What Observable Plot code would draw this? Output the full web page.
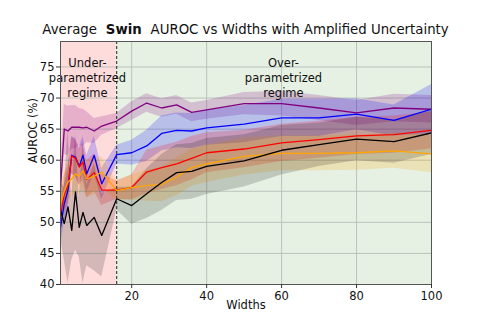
<!DOCTYPE html>
<html><head><meta charset="utf-8">
<script src="https://cdn.jsdelivr.net/npm/d3@7"></script>
<script src="https://cdn.jsdelivr.net/npm/@observablehq/plot@0.6"></script>
<style>body{margin:0;background:#fff;} svg{display:block;}</style>
</head><body><div id="chart"></div>
<script>
const widths = [1,2,3,4,5,6,7,8,10,12,16,20,24,28,32,36,40,50,60,70,80,90,100];
const purple = [55.5,65,64.7,65.3,65.3,65.3,65.2,65.3,64.7,65.5,66.3,67.9,69.2,68.4,68.9,67.7,68.1,69.1,69.1,68.4,67.6,68.4,68.2];
const blue   = [49.2,53,55.2,60.8,60.5,59,60.8,57.8,60.8,56.2,60.9,61.2,62.3,64.3,64.8,64.7,65.2,65.8,66.8,66.8,67.4,66.4,68.2];
const red    = [51,54.5,56,60.7,60.3,58.9,59.7,56.9,58,55.2,55.2,55.6,58.1,58.8,59.4,60.3,61.2,61.8,62.8,63.3,63.9,64.1,64.8];
const orange = [53,55,56.5,57,57.8,57.4,58.3,57,57.4,58.1,55.1,55.6,55.9,56.1,57.3,58.8,59.4,60.6,61.1,61.1,61.2,61.5,61];
const black  = [52,49.8,52.5,48.7,54.9,49.2,51.6,49.5,50.8,47.9,53.8,52.7,54.6,56.4,58,58.2,59,59.9,61.6,62.5,63.4,63,64.4];

const purpleSpread = [2,4,4,3.5,3.5,3,3,2.5,2,1.5,1.2,1.5,1.5,1.5,1.5,1.5,1.5,1.8,2,2,2,2.2,2.2];
const blueSpread   = [3,3,3,3,3,3,3,3,3,2.5,1.5,2,2.5,2.8,2.8,2.8,2.8,3,3,3,2.5,2.5,4];
const redSpread    = [3,3,3,3,3,3,3,3,3,2.5,1.5,2,3.5,3.5,3.5,3.5,3.2,3,3,3,3,3,3];
const orangeSpread = [3,3,3,3,3,3,3,3,3,2.5,1.5,2,2.5,2.8,3,3,3,3,2.8,2.8,2.8,2.8,3];
const blackSpread  = [4.4,5.8,12.3,4.8,9.4,4.8,11.4,6.5,8.6,6.7,1.8,3,4,4.5,4.5,4.5,4.5,4.2,4,3.5,3.5,3.5,3.5];

const xTicks = [20,40,60,80,100];
const yTicks = [40,45,50,55,60,65,70,75];
const boundary = 16;

const series = [
  {name:"purple", color:"purple", values:purple, spread:purpleSpread},
  {name:"blue", color:"blue", values:blue, spread:blueSpread},
  {name:"red", color:"red", values:red, spread:redSpread},
  {name:"orange", color:"orange", values:orange, spread:orangeSpread},
  {name:"black", color:"black", values:black, spread:blackSpread}
];
const rows = series.flatMap(s => widths.map((w,i) => ({s:s.name, color:s.color, x:w, y:s.values[i], lo:s.values[i]-s.spread[i], hi:s.values[i]+s.spread[i]})));

const font = "DejaVu Sans";
const marks = [
  Plot.rect([{a:1,b:boundary}], {x1:"a", x2:"b", fill:"#ffdcdc"}),
  Plot.rect([{a:boundary,b:100}], {x1:"a", x2:"b", fill:"#e6f1e4"}),
  Plot.ruleX(xTicks.slice(0,-1), {stroke:"#b8bcb8", strokeWidth:0.9}),
  Plot.ruleY(yTicks.slice(1), {stroke:"#b8bcb8", strokeWidth:0.9}),
];
for (const s of series) {
  marks.push(Plot.areaY(rows.filter(r=>r.s===s.name), {x:"x", y1:"lo", y2:"hi", fill:s.color, fillOpacity:s.name==="black"?0.17:0.2, clip:true}));
}
for (const s of series) {
  marks.push(Plot.lineY(rows.filter(r=>r.s===s.name), {x:"x", y:"y", stroke:s.color, strokeWidth:1.3, clip:true}));
}
marks.push(
  Plot.ruleX([boundary], {stroke:"#222", strokeDasharray:"3,2", strokeWidth:1}),
  Plot.text(["Under-\nparametrized\nregime"], {x:8.2, y:73.3, fontSize:11.5, lineHeight:1.3, fill:"#111"}),
  Plot.text(["Over-\nparametrized\nregime"], {x:60.5, y:73.3, fontSize:11.5, lineHeight:1.3, fill:"#111"}),
  Plot.frame({stroke:"#555", strokeWidth:1}),
  Plot.axisX({ticks:xTicks, tickSize:4, tickPadding:3, fontSize:11.5, label:null, stroke:"#333"}),
  Plot.axisY({ticks:yTicks, tickSize:4, tickPadding:2, fontSize:11.5, label:null, stroke:"#333"}),
  Plot.text(["Widths"], {frameAnchor:"bottom", dy:24, fontSize:11.5, fill:"#111"}),
  Plot.text(["AUROC (%)"], {frameAnchor:"left", dx:-27, rotate:-90, fontSize:11.5, fill:"#111"})
);

const chart = Plot.plot({
  width:478, height:319,
  marginTop:41, marginBottom:35, marginLeft:60, marginRight:47,
  style:{fontFamily:font, fontSize:"11.5px", color:"#111", background:"#fff"},
  x:{domain:[1,100]},
  y:{domain:[40,79.1]},
  marks
});
document.getElementById("chart").append(chart);

const svg = d3.select(chart);
const t = svg.append("text").attr("x", 245.5).attr("y", 34).attr("text-anchor","middle")
  .attr("font-family", font).attr("font-size", 13.3).attr("fill","#111");
t.append("tspan").text("Average ");
t.append("tspan").attr("font-weight","bold").text(" Swin ");
t.append("tspan").text(" AUROC vs Widths with Amplified Uncertainty");
</script></body></html>
